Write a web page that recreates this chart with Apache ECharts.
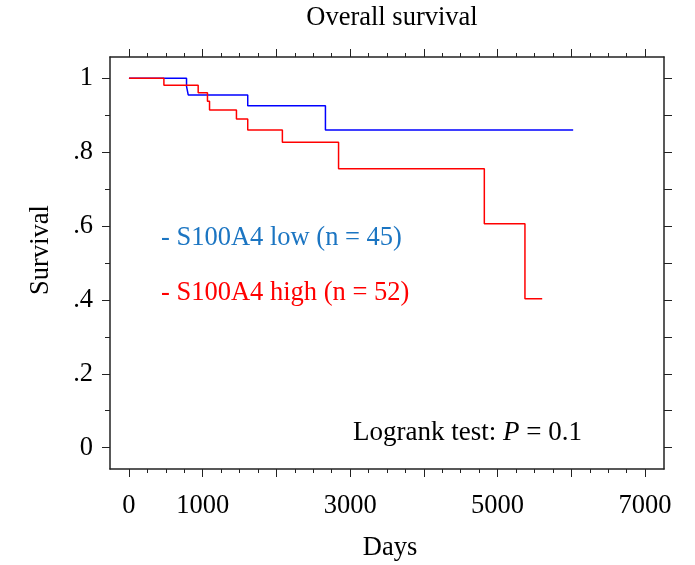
<!DOCTYPE html>
<html>
<head>
<meta charset="utf-8">
<script src="https://cdn.jsdelivr.net/npm/echarts@6/dist/echarts.min.js"></script>
<style>
html,body{margin:0;padding:0;background:#fff;}
#chart{width:695px;height:565px;}
</style>
</head>
<body>
<div id="chart"></div>
<script>
// ---- data (Kaplan-Meier step points: [days, survival]) ----
var lowDays     = [0, 781, 804, 1611, 2665, 6025];
var lowSurv     = [1, 0.978, 0.955, 0.926, 0.860, 0.860];
var highDays    = [0, 474, 939, 1065, 1093, 1458, 1611, 2081, 2843, 4820, 5371, 5605];
var highSurv    = [1, 0.981, 0.961, 0.938, 0.914, 0.890, 0.860, 0.827, 0.755, 0.606, 0.403, 0.403];

// ---- axis ticks & labels ----
var xLabelValues = [0, 1000, 3000, 5000, 7000];
var xTickLabels  = ['0', '1000', '3000', '5000', '7000'];
var xMajorTicks  = [0, 1000, 2000, 3000, 4000, 5000, 6000, 7000];
var xMinorTicks  = [250, 500, 750, 1250, 1500, 1750, 2250, 2500, 2750, 3250, 3500, 3750,
                    4250, 4500, 4750, 5250, 5500, 5750, 6250, 6500, 6750];
var yLabelValues = [0, 0.2, 0.4, 0.6, 0.8, 1];
var yTickLabels  = ['0', '.2', '.4', '.6', '.8', '1'];
var yMinorTicks  = [0.1, 0.3, 0.5, 0.7, 0.9];
var yRightTicks  = [0, 0.1, 0.2, 0.3, 0.4, 0.5, 0.6, 0.7, 0.8, 0.9, 1];

var titleText = 'Overall survival';
var xName = 'Days';
var yName = 'Survival';
var lowLabel = '- S100A4 low (n = 45)';
var highLabel = '- S100A4 high (n = 52)';

function pairs(xs, ys) { return xs.map(function (x, i) { return [x, ys[i]]; }); }

var FONT = "'Liberation Serif', 'Times New Roman', serif";
var FS = 26.5;
var INK = '#222';
var XMIN = -257, XMAX = 7257, YMIN = -0.0577, YMAX = 1.0577;

function xAxisDef(pos, ticks, len, withLabels, withLine) {
  return {
    type: 'value', position: pos, min: XMIN, max: XMAX,
    axisLine: { show: withLine, onZero: false, lineStyle: { color: INK, width: 1.5 } },
    axisTick: { show: true, inside: false, length: len, customValues: ticks, lineStyle: { color: INK, width: 1 } },
    axisLabel: withLabels ? {
      show: true, customValues: xLabelValues, margin: 24,
      fontFamily: FONT, fontSize: FS, color: '#000',
      formatter: function (v) { var i = xLabelValues.indexOf(v); return i >= 0 ? xTickLabels[i] : ''; }
    } : { show: false },
    splitLine: { show: false }
  };
}
function yAxisDef(pos, ticks, len, withLabels, withLine) {
  return {
    type: 'value', position: pos, min: YMIN, max: YMAX,
    axisLine: { show: withLine, onZero: false, lineStyle: { color: INK, width: 1.5 } },
    axisTick: { show: true, inside: false, length: len, customValues: ticks, lineStyle: { color: INK, width: 1 } },
    axisLabel: withLabels ? {
      show: true, customValues: yLabelValues, margin: 17,
      fontFamily: FONT, fontSize: FS, color: '#000',
      formatter: function (v) {
        for (var i = 0; i < yLabelValues.length; i++) if (Math.abs(v - yLabelValues[i]) < 1e-9) return yTickLabels[i];
        return '';
      }
    } : { show: false },
    splitLine: { show: false }
  };
}

var chart = echarts.init(document.getElementById('chart'), null, { renderer: 'canvas' });
chart.setOption({
  animation: false,
  backgroundColor: '#fff',
  grid: { left: 110, top: 57, right: 31, bottom: 96, containLabel: false },
  xAxis: [
    xAxisDef('bottom', xMajorTicks, 8, true, true),
    xAxisDef('bottom', xMinorTicks, 4, false, false),
    xAxisDef('top', xMajorTicks, 8, false, true),
    xAxisDef('top', xMinorTicks, 4, false, false)
  ],
  yAxis: [
    yAxisDef('left', yLabelValues, 8, true, true),
    yAxisDef('left', yMinorTicks, 5, false, false),
    yAxisDef('right', yRightTicks, 8, false, true)
  ],
  series: [
    {
      name: 'S100A4 low', type: 'line', step: 'end', xAxisIndex: 0, yAxisIndex: 0,
      data: pairs(lowDays, lowSurv), showSymbol: false, symbol: 'none',
      lineStyle: { color: '#0000ff', width: 1.5 }, itemStyle: { color: '#0000ff' }
    },
    {
      name: 'S100A4 high', type: 'line', step: 'end', xAxisIndex: 0, yAxisIndex: 0,
      data: pairs(highDays, highSurv), showSymbol: false, symbol: 'none',
      lineStyle: { color: '#ff0000', width: 1.5 }, itemStyle: { color: '#ff0000' }
    }
  ],
  graphic: [
    { type: 'text', x: 392, y: 18.5, style: { text: titleText, font: FS + 'px ' + FONT, fill: '#000', textAlign: 'center', textVerticalAlign: 'middle' } },
    { type: 'text', x: 390, y: 548, style: { text: xName, font: FS + 'px ' + FONT, fill: '#000', textAlign: 'center', textVerticalAlign: 'middle' } },
    { type: 'text', x: 41, y: 250, rotation: Math.PI / 2, style: { text: yName, font: FS + 'px ' + FONT, fill: '#000', textAlign: 'center', textVerticalAlign: 'middle' } },
    { type: 'text', x: 161, y: 238.5, style: { text: lowLabel, font: FS + 'px ' + FONT, fill: '#1b75c2', textAlign: 'left', textVerticalAlign: 'middle' } },
    { type: 'text', x: 161, y: 293, style: { text: highLabel, font: FS + 'px ' + FONT, fill: '#ff0000', textAlign: 'left', textVerticalAlign: 'middle' } },
    { type: 'text', x: 582, y: 433, style: {
        text: '{n|Logrank test: }{i|P}{n| = 0.1}', textAlign: 'right', textVerticalAlign: 'middle',
        rich: {
          n: { fontFamily: FONT, fontSize: 27, fill: '#000', color: '#000' },
          i: { fontFamily: FONT, fontSize: 27, fontStyle: 'italic', fill: '#000', color: '#000' }
        }
    } }
  ]
});
</script>
</body>
</html>
